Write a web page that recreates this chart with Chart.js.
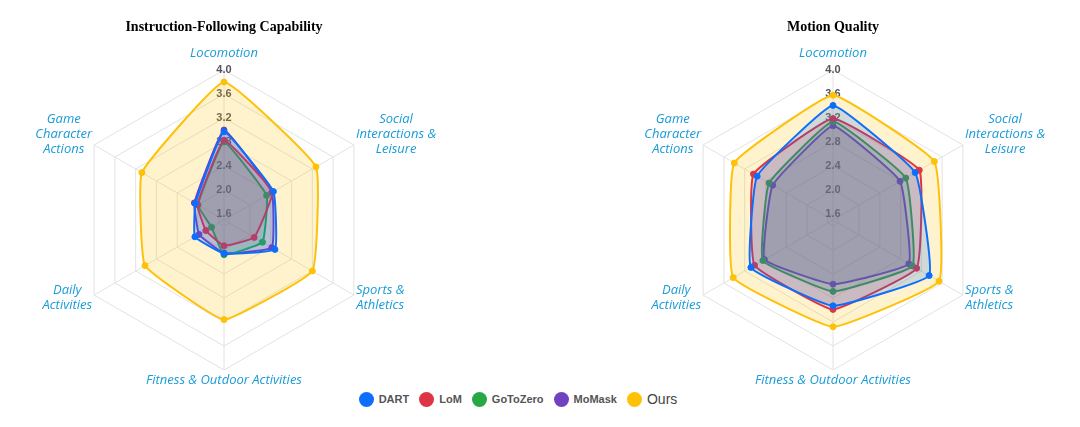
<!DOCTYPE html>
<html>
<head>
<meta charset="utf-8">
<script src="https://cdn.jsdelivr.net/npm/chart.js@4.4.0/dist/chart.umd.min.js"></script>
<style>
  body { margin: 0; background: #fff; width: 1080px; height: 427px; position: relative; overflow: hidden; }
  canvas { position: absolute; top: 0; }
  #leftChart { left: 0; }
  #rightChart { left: 586px; }
  #legend { position: absolute; top: 391px; left: 0; width: 1036px; height: 16px;
            display: flex; justify-content: center; align-items: center;
            font-family: "Liberation Sans", Arial, sans-serif; }
  .item { display: flex; align-items: center; margin-right: 10px; }
  .item:last-child { margin-right: 0; }
  .dot { width: 15px; height: 15px; border-radius: 50%; margin-right: 5px; }
  .item span { font-size: 11px; font-weight: bold; color: #555; }
  .item span.plain { font-size: 14px; font-weight: normal; color: #444; }
</style>
</head>
<body>
<canvas id="leftChart" width="448" height="390"></canvas>
<canvas id="rightChart" width="494" height="390"></canvas>
<div id="legend"></div>
<script>
// categories (multi-line labels as arrays)
const categories = [
  'Locomotion',
  ['Social', 'Interactions &', 'Leisure'],
  ['Sports &', 'Athletics'],
  'Fitness & Outdoor Activities',
  ['Daily', 'Activities'],
  ['Game', 'Character', 'Actions']
];

const methods = ['DART', 'LoM', 'GoToZero', 'MoMask', 'Ours'];
const colors = ['#0d6efd', '#dc3545', '#28a745', '#6f42c1', '#ffc107'];

// Instruction-Following Capability
const ifDart     = [2.97, 2.45, 2.48, 2.06, 2.06, 2.05];
const ifLom      = [2.83, 2.43, 2.08, 1.93, 1.85, 2.01];
const ifGoToZero = [2.80, 2.32, 2.24, 2.08, 1.74, 2.00];
const ifMoMask   = [3.00, 2.42, 2.42, 2.05, 1.98, 2.07];
const ifOurs     = [3.80, 3.27, 3.20, 3.16, 3.02, 3.08];

// Motion Quality
const mqDart     = [3.41, 3.08, 3.35, 2.93, 3.08, 2.96];
const mqLom      = [3.19, 3.16, 3.11, 2.99, 3.01, 3.03];
const mqGoToZero = [3.14, 2.90, 3.03, 2.69, 2.85, 2.73];
const mqMoMask   = [3.07, 2.79, 2.96, 2.57, 2.82, 2.66];
const mqOurs     = [3.58, 3.45, 3.54, 3.28, 3.42, 3.40];

// radial scale: centre value, then the labelled rings
const scaleMin = 1.5;
const scaleMax = 4.0;
const tickValues = [1.5, 1.6, 2.0, 2.4, 2.8, 3.2, 3.6, 4.0];

const labelColor = '#1a9bd7';

function hexToRgba(hex, a) {
  const n = parseInt(hex.slice(1), 16);
  return 'rgba(' + (n >> 16) + ',' + ((n >> 8) & 255) + ',' + (n & 255) + ',' + a + ')';
}

// draws the axis names centred on each spoke
const axisLabels = {
  id: 'axisLabels',
  afterDraw(chart) {
    const scale = chart.scales.r;
    const ctx = chart.ctx;
    const lineH = 15;
    ctx.save();
    ctx.font = 'italic 13px "Open Sans"';
    ctx.fillStyle = labelColor;
    ctx.textAlign = 'center';
    ctx.textBaseline = 'middle';
    chart.data.labels.forEach((label, i) => {
      const lines = [].concat(label);
      const p = scale.getPointPosition(i, scale.drawingArea);
      const dx = p.x - scale.xCenter;
      const dy = p.y - scale.yCenter;
      const w = Math.max(...lines.map(l => ctx.measureText(l).width));
      const h = lines.length * lineH;
      let cx, cy;
      if (Math.abs(dx) < 1) {
        cx = p.x;
        cy = p.y + Math.sign(dy) * (6 + h / 2) - 3.5;
      } else {
        cx = p.x + Math.sign(dx) * (2 + w / 2);
        cy = p.y + Math.sign(dy) * 7 - 4;
      }
      lines.forEach((l, k) => ctx.fillText(l, cx, cy - h / 2 + lineH / 2 + k * lineH));
    });
    ctx.restore();
  }
};

function makeRadar(id, title, series) {
  new Chart(document.getElementById(id), {
    type: 'radar',
    data: {
      labels: categories,
      datasets: series.map((d, i) => ({
        label: methods[i],
        data: d,
        borderColor: colors[i],
        backgroundColor: hexToRgba(colors[i], 0.2),
        pointBackgroundColor: colors[i],
        pointBorderColor: colors[i],
        borderWidth: 2,
        pointRadius: 3,
        pointBorderWidth: 1,
        tension: 0.1,
        fill: true
      }))
    },
    options: {
      responsive: false,
      animation: false,
      layout: { padding: { bottom: 14 } },
      plugins: {
        legend: { display: false },
        tooltip: { enabled: false },
        title: {
          display: true,
          text: title,
          color: '#000',
          font: { family: '"Liberation Serif"', size: 14, weight: 'bold' },
          padding: { top: 18.6, bottom: 29.6 }
        }
      },
      scales: {
        r: {
          min: scaleMin,
          max: scaleMax,
          afterBuildTicks: scale => {
            scale.ticks = tickValues.map(v => ({ value: v }));
          },
          ticks: {
            showLabelBackdrop: false,
            backdropPadding: 0,
            color: '#555',
            font: { family: '"Liberation Sans"', size: 11, weight: 'bold' },
            callback: v => v.toFixed(1)
          },
          grid: { color: '#e2e2e2' },
          angleLines: { color: '#e2e2e2' },
          pointLabels: { display: false }
        }
      }
    },
    plugins: [axisLabels]
  });
}

makeRadar('leftChart', 'Instruction-Following Capability',
  [ifDart, ifLom, ifGoToZero, ifMoMask, ifOurs]);
makeRadar('rightChart', 'Motion Quality',
  [mqDart, mqLom, mqGoToZero, mqMoMask, mqOurs]);

// shared legend
const legend = document.getElementById('legend');
methods.forEach((m, i) => {
  const item = document.createElement('div');
  item.className = 'item';
  const dot = document.createElement('div');
  dot.className = 'dot';
  dot.style.background = colors[i];
  const txt = document.createElement('span');
  txt.textContent = m;
  if (m === 'Ours') txt.className = 'plain';
  item.appendChild(dot);
  item.appendChild(txt);
  legend.appendChild(item);
});
</script>
</body>
</html>
